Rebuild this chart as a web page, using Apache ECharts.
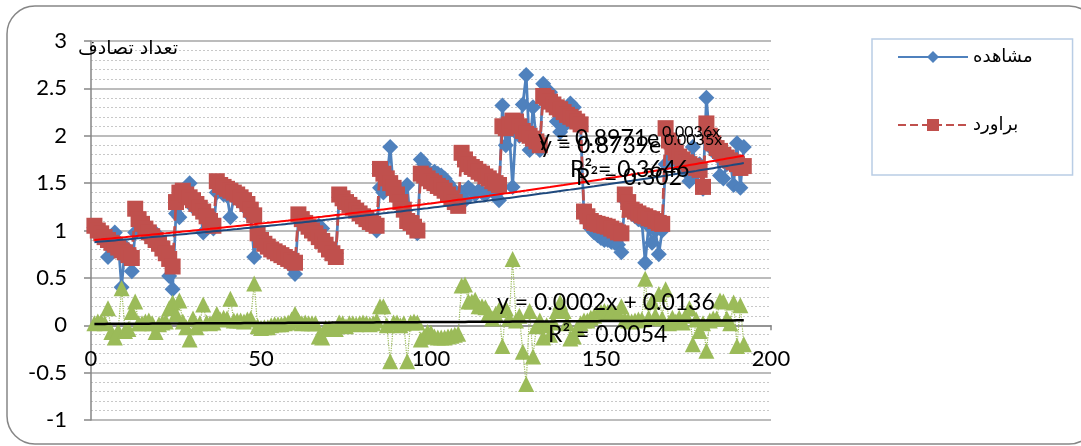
<!DOCTYPE html>
<html>
<head>
<meta charset="utf-8">
<script src="https://cdn.jsdelivr.net/npm/echarts@6/dist/echarts.min.js"></script>
<style>
  html, body { margin: 0; padding: 0; background: #fff; }
  #chart { width: 1081px; height: 446px; }
</style>
</head>
<body>
<div id="chart"></div>
<script>
// Monthly accident counts (16 years x 12 months), observed vs. model estimate
const observed = [
  1.03, 0.96, 0.93, 0.91, 0.72, 0.94, 0.98, 0.88, 0.40, 0.83, 0.78, 0.57,
  0.98, 1.10, 1.05, 0.98, 0.93, 0.92, 0.97, 0.85, 0.78, 0.72, 0.52, 0.38,
  1.18, 1.14, 1.38, 1.40, 1.50, 1.25, 1.30, 1.22, 0.98, 1.12, 1.08, 1.02,
  1.40, 1.42, 1.38, 1.37, 1.14, 1.35, 1.33, 1.30, 1.28, 1.22, 1.15, 0.72,
  0.98, 0.93, 0.88, 0.85, 0.80, 0.77, 0.75, 0.73, 0.70, 0.67, 0.62, 0.54,
  1.12, 1.10, 1.05, 1.02, 0.98, 0.95, 1.05, 1.02, 0.88, 0.83, 0.80, 0.76,
  1.35, 1.32, 1.31, 1.25, 1.22, 1.20, 1.16, 1.12, 1.10, 1.08, 1.05, 1.00,
  1.45, 1.40, 1.55, 1.88, 1.42, 1.35, 1.30, 1.20, 1.48, 1.05, 1.00, 0.97,
  1.75, 1.70, 1.62, 1.60, 1.62, 1.60, 1.58, 1.55, 1.50, 1.45, 1.40, 1.35,
  1.40, 1.32, 1.45, 1.42, 1.38, 1.42, 1.40, 1.38, 1.42, 1.45, 1.38, 1.32,
  2.32, 1.90, 2.05, 1.46, 2.10, 2.00, 2.33, 2.64, 1.85, 2.30, 1.95, 1.85,
  2.55, 2.40, 2.46, 2.30, 2.15, 2.04, 2.10, 2.20, 2.34, 2.30, 2.18, 2.10,
  1.15, 1.10, 1.02, 0.98, 0.95, 0.92, 0.90, 0.90, 0.88, 0.87, 0.85, 0.77,
  1.32, 1.25, 1.18, 1.15, 1.12, 1.10, 0.66, 1.05, 0.87, 1.00, 0.75, 1.00,
  1.70, 1.93, 1.80, 1.78, 1.70, 1.72, 1.62, 1.52, 1.88, 1.60, 1.70, 1.44,
  2.40, 1.95, 1.85, 1.80, 1.58, 1.55, 1.70, 1.72, 1.48, 1.92, 1.45, 1.88
];

const estimated = [
  1.05, 1.00, 0.97, 0.93, 0.90, 0.87, 0.85, 0.82, 0.79, 0.77, 0.74, 0.71,
  1.23, 1.12, 1.07, 1.02, 0.98, 0.94, 0.90, 0.86, 0.81, 0.76, 0.70, 0.62,
  1.30, 1.40, 1.42, 1.38, 1.35, 1.32, 1.28, 1.24, 1.20, 1.15, 1.10, 1.05,
  1.52, 1.48, 1.46, 1.44, 1.42, 1.40, 1.38, 1.35, 1.32, 1.28, 1.22, 1.16,
  0.97, 0.90, 0.86, 0.83, 0.80, 0.78, 0.76, 0.74, 0.72, 0.70, 0.68, 0.66,
  1.17, 1.12, 1.08, 1.04, 1.00, 0.97, 0.93, 0.89, 0.85, 0.80, 0.76, 0.72,
  1.38, 1.34, 1.30, 1.27, 1.24, 1.21, 1.18, 1.15, 1.12, 1.09, 1.07, 1.05,
  1.65, 1.60, 1.55, 1.50, 1.45, 1.38, 1.30, 1.22, 1.10, 1.08, 1.04, 1.00,
  1.60, 1.58, 1.55, 1.52, 1.50, 1.47, 1.45, 1.42, 1.38, 1.34, 1.30, 1.26,
  1.82, 1.75, 1.70, 1.67, 1.65, 1.62, 1.60, 1.57, 1.55, 1.52, 1.50, 1.48,
  2.10, 2.08, 2.12, 2.16, 2.15, 2.10, 2.05, 2.02, 2.00, 1.97, 1.94, 1.90,
  2.42, 2.40, 2.36, 2.33, 2.30, 2.28, 2.25, 2.22, 2.20, 2.18, 2.15, 2.12,
  1.20, 1.15, 1.10, 1.08, 1.07, 1.06, 1.05, 1.04, 1.02, 1.00, 0.98, 0.97,
  1.38, 1.30, 1.22, 1.20, 1.18, 1.16, 1.15, 1.13, 1.12, 1.10, 1.08, 1.07,
  2.08, 1.95, 1.88, 1.82, 1.78, 1.75, 1.72, 1.70, 1.68, 1.66, 1.64, 1.46,
  2.13, 2.00, 1.92, 1.87, 1.84, 1.80, 1.77, 1.74, 1.72, 1.70, 1.66, 1.68
];

// Estimation error for each month
const residual = [
  0.02, 0.04, 0.04, 0.02, 0.18, -0.07, -0.13, -0.06, 0.39, -0.06, -0.04, 0.14,
  0.25, 0.02, 0.02, 0.04, 0.05, 0.02, -0.07, 0.01, 0.03, 0.04, 0.18, 0.24,
  0.12, 0.26, 0.04, -0.02, -0.15, 0.07, -0.02, 0.02, 0.22, 0.03, 0.02, 0.03,
  0.12, 0.06, 0.08, 0.07, 0.28, 0.05, 0.05, 0.05, 0.04, 0.06, 0.07, 0.44,
  -0.01, -0.03, -0.02, -0.02, 0.00, 0.01, 0.01, 0.01, 0.02, 0.03, 0.06, 0.12,
  0.05, 0.02, 0.03, 0.02, 0.02, 0.02, -0.12, -0.13, -0.03, -0.03, -0.04, -0.04,
  0.03, 0.02, -0.01, 0.02, 0.02, 0.01, 0.02, 0.03, 0.02, 0.01, 0.02, 0.05,
  0.20, 0.20, 0.00, -0.38, 0.03, 0.03, 0.00, 0.02, -0.38, 0.03, 0.04, 0.03,
  -0.15, -0.12, -0.07, -0.08, -0.12, -0.13, -0.13, -0.13, -0.12, -0.11, -0.10, -0.09,
  0.42, 0.43, 0.25, 0.25, 0.27, 0.20, 0.20, 0.19, 0.13, 0.07, 0.12, 0.16,
  -0.22, 0.18, 0.07, 0.70, 0.05, 0.10, -0.28, -0.62, 0.15, -0.33, -0.01, 0.05,
  -0.13, 0.00, -0.10, 0.03, 0.15, 0.24, 0.15, 0.02, -0.14, -0.12, -0.03, 0.02,
  0.05, 0.05, 0.08, 0.10, 0.12, 0.14, 0.15, 0.14, 0.14, 0.13, 0.13, 0.20,
  0.06, 0.05, 0.04, 0.05, 0.06, 0.06, 0.49, 0.08, 0.25, 0.10, 0.33, 0.07,
  0.38, 0.02, 0.08, 0.04, 0.08, 0.03, 0.10, 0.18, -0.20, 0.06, -0.06, 0.02,
  -0.27, 0.05, 0.07, 0.07, 0.26, 0.25, 0.07, 0.02, 0.24, -0.22, 0.21, -0.20
];

const seriesNames = ['مشاهده', 'براورد'];
const axisTitle = 'تعداد تصادف';

// Fitted trend lines: exponential a*e^(b*x) and linear m*x + c
const expTrendEstimated = [0.8971, 0.0036];
const expTrendObserved = [0.8739, 0.0035];
const linTrendResidual = [0.0002, 0.0136];
const trendLabels = ['y = 0.8971e', '0.0036x', 'R² = 0.3646', 'y = 0.8739e', '0.0035x', 'R² = 0.302', 'y = 0.0002x + 0.0136', 'R² = 0.0054'];

const months = observed.map((_, i) => i + 1);
const toPairs = arr => arr.map((v, i) => [months[i], v]);
const expLine = ([a, b]) => months.map(x => [x, a * Math.exp(b * x)]);
const linLine = ([m, c]) => months.map(x => [x, m * x + c]);

const FONT = 'Lato, "DejaVu Sans", sans-serif';
const AR_FONT = '"DejaVu Sans", sans-serif';
const GRID_GRAY = '#A6A6A6';
const AXIS_GRAY = '#868686';

// Plot box; the value axis runs from -1 to 3
const GRID = { left: 91, top: 41, width: 680, height: 379 };
const Y_MIN = -1, Y_MAX = 3;
// Lift the horizontal axis from the bottom edge up to y = 0
const xAxisLift = -GRID.height * (0 - Y_MIN) / (Y_MAX - Y_MIN);

const chart = echarts.init(document.getElementById('chart'), null, { renderer: 'canvas' });

const txt = (left, y, text, size) => ({
  type: 'text', left: left, top: y - size * 0.6, z: 100,
  style: { text: text, fill: '#000', font: size + 'px ' + FONT }
});

chart.setOption({
  animation: false,
  backgroundColor: '#fff',
  grid: Object.assign({ outerBoundsMode: 'none', containLabel: false }, GRID),
  legend: {
    data: seriesNames,
    orient: 'vertical',
    left: 872, top: 39,
    padding: [9, 40, 41, 25],
    itemGap: 50,
    itemWidth: 70,
    itemHeight: 15,
    backgroundColor: '#fff',
    borderColor: '#B9CDE5',
    borderWidth: 1.5,
    textStyle: { fontFamily: AR_FONT, fontSize: 18, color: '#000' }
  },
  xAxis: {
    type: 'value', min: 0, max: 200, interval: 50,
    position: 'bottom',
    offset: xAxisLift,
    axisLine: { onZero: false, lineStyle: { color: AXIS_GRAY, width: 1.5 } },
    axisTick: { show: true, length: 5, lineStyle: { color: AXIS_GRAY, width: 1.5 } },
    axisLabel: { margin: 23, color: '#000', fontFamily: FONT, fontSize: 22 },
    splitLine: { show: false }
  },
  yAxis: {
    type: 'value', min: Y_MIN, max: Y_MAX, interval: 0.5,
    axisLine: { show: true, onZero: false, lineStyle: { color: AXIS_GRAY, width: 1.5 } },
    axisTick: { show: true, length: 7, lineStyle: { color: AXIS_GRAY, width: 1.5 } },
    axisLabel: { margin: 24, color: '#000', fontFamily: FONT, fontSize: 22 },
    splitLine: { show: true, lineStyle: { color: GRID_GRAY, width: 1.5 } },
    minorTick: { show: false, splitNumber: 5 },
    minorSplitLine: { show: true, lineStyle: { color: '#C8C8C8', width: 1, type: [2, 2] } }
  },
  series: [
    {
      name: seriesNames[0], type: 'line', data: toPairs(observed),
      symbol: 'diamond', symbolSize: 16, showSymbol: true,
      lineStyle: { color: '#4F81BD', width: 2.75 },
      itemStyle: { color: '#4F81BD' }, z: 2
    },
    {
      name: seriesNames[1], type: 'line', data: toPairs(estimated),
      symbol: 'rect', symbolSize: 16, showSymbol: true,
      lineStyle: { color: '#C0504D', width: 2.75, type: 'dashed' },
      itemStyle: { color: '#C0504D' }, z: 3
    },
    {
      name: 'residual', type: 'line', data: toPairs(residual),
      symbol: 'triangle', symbolSize: 16, showSymbol: true,
      lineStyle: { color: '#9BBB59', width: 1.2, type: 'dotted' },
      itemStyle: { color: '#9BBB59' }, z: 4
    },
    {
      name: 'trendEstimated', type: 'line', data: expLine(expTrendEstimated),
      symbol: 'none', silent: true,
      lineStyle: { color: '#FF0000', width: 2 }, z: 6
    },
    {
      name: 'trendObserved', type: 'line', data: expLine(expTrendObserved),
      symbol: 'none', silent: true,
      lineStyle: { color: '#1F497D', width: 2 }, z: 6
    },
    {
      name: 'trendResidual', type: 'line', data: linLine(linTrendResidual),
      symbol: 'none', silent: true,
      lineStyle: { color: '#000000', width: 2.5 }, z: 6
    }
  ],
  graphic: [
    {
      type: 'rect', z: -1, silent: true,
      shape: { x: 7, y: 6, width: 1090, height: 438, r: 28 },
      style: { fill: 'none', stroke: AXIS_GRAY, lineWidth: 1.5 }
    },
    {
      type: 'text', left: 78, top: 40, z: 100,
      style: { text: axisTitle, fill: '#000', font: '19px ' + AR_FONT }
    },
    txt(538, 141, trendLabels[0], 23),
    txt(662, 133, trendLabels[1], 16),
    txt(570, 172, trendLabels[2], 23),
    txt(540, 148, trendLabels[3], 23),
    txt(664, 141, trendLabels[4], 16),
    txt(576, 180, trendLabels[5], 23),
    txt(497, 305, trendLabels[6], 23),
    txt(548, 337, trendLabels[7], 23)
  ]
});
</script>
</body>
</html>
